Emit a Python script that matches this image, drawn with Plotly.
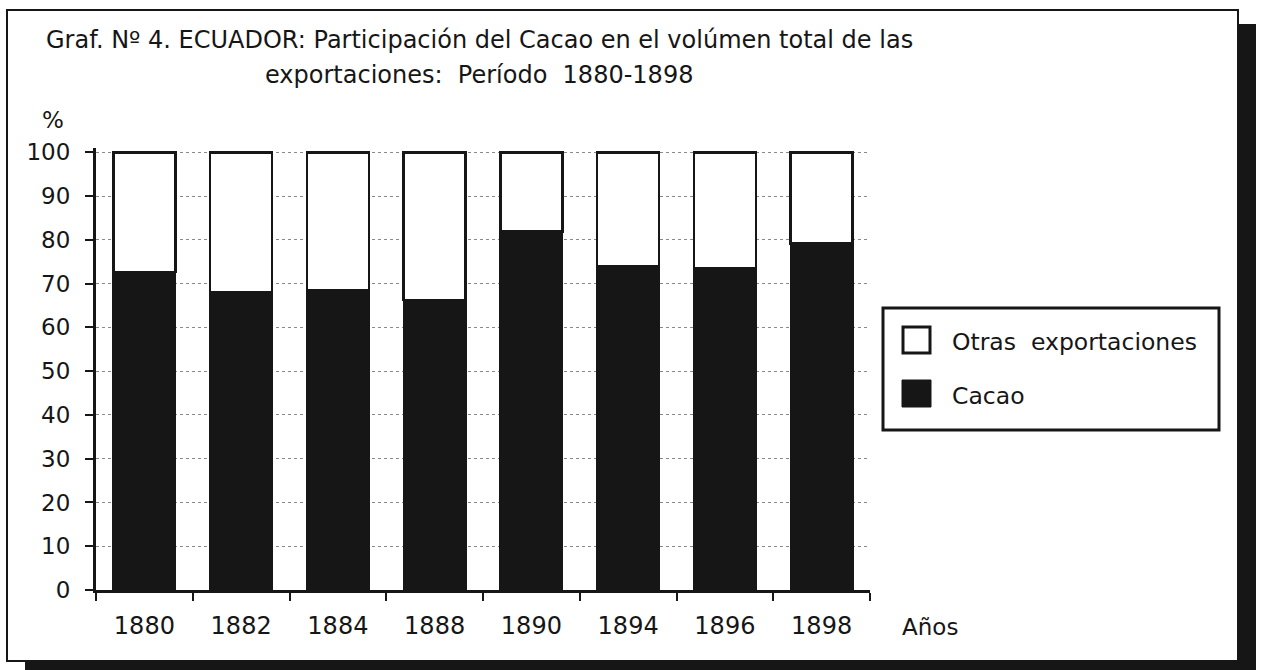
import plotly.graph_objects as go

# ---- data ----
years = ["1880", "1882", "1884", "1888", "1890", "1894", "1896", "1898"]
cacao = [72.7, 68.0, 68.5, 66.3, 81.9, 74.0, 73.5, 79.2]
otras = [round(100 - v, 1) for v in cacao]
series_names = ["Otras  exportaciones", "Cacao"]
y_ticks = [0, 10, 20, 30, 40, 50, 60, 70, 80, 90, 100]
title_line1 = "Graf. Nº 4. ECUADOR: Participación del Cacao en el volúmen total de las"
title_line2 = "exportaciones:  Período  1880-1898"

W, H = 1261, 670
ML, MR, MT, MB = 96, 391, 148, 80
PW, PH = W - ML - MR, H - MT - MB
FONT = "DejaVu Sans, Liberation Sans, Arial, sans-serif"
INK = "#161616"


def px(x):
    return (x - ML) / PW


def py(y):
    return (H - MB - y) / PH


fig = go.Figure()
fig.add_trace(go.Bar(x=years, y=cacao, name=series_names[1],
                     marker=dict(color=INK, line=dict(color=INK, width=2)),
                     showlegend=False))
fig.add_trace(go.Bar(x=years, y=otras, name=series_names[0],
                     marker=dict(color="white", line=dict(color=INK, width=2.5)),
                     showlegend=False))

shapes = []
# shadow of the frame
shapes.append(dict(type="rect", xref="paper", yref="paper", layer="below",
                   x0=px(1238), x1=px(1256), y0=py(670), y1=py(24),
                   fillcolor=INK, line=dict(width=0)))
shapes.append(dict(type="rect", xref="paper", yref="paper", layer="below",
                   x0=px(25), x1=px(1256), y0=py(670), y1=py(661),
                   fillcolor=INK, line=dict(width=0)))
# frame
shapes.append(dict(type="rect", xref="paper", yref="paper", layer="below",
                   x0=px(7), x1=px(1238), y0=py(661), y1=py(10),
                   fillcolor="white", line=dict(color=INK, width=2)))
# legend box
shapes.append(dict(type="rect", xref="paper", yref="paper",
                   x0=px(883), x1=px(1219), y0=py(430), y1=py(308),
                   fillcolor="white", line=dict(color=INK, width=3)))
shapes.append(dict(type="rect", xref="paper", yref="paper",
                   x0=px(903), x1=px(930), y0=py(353), y1=py(327),
                   fillcolor="white", line=dict(color=INK, width=3)))
shapes.append(dict(type="rect", xref="paper", yref="paper",
                   x0=px(902), x1=px(931), y0=py(407), y1=py(380),
                   fillcolor=INK, line=dict(color=INK, width=1)))

annotations = [
    dict(text=title_line1, x=px(44), y=py(40), xanchor="left", yanchor="middle",
         font=dict(size=24)),
    dict(text=title_line2, x=px(263), y=py(75), xanchor="left", yanchor="middle",
         font=dict(size=24)),
    dict(text="%", x=px(53), y=py(120), xanchor="center", yanchor="middle",
         font=dict(size=23)),
    dict(text="Años", x=px(930), y=py(627), xanchor="center", yanchor="middle",
         font=dict(size=23)),
    dict(text=series_names[0], x=px(950), y=py(342), xanchor="left", yanchor="middle",
         font=dict(size=23.5)),
    dict(text=series_names[1], x=px(950), y=py(396), xanchor="left", yanchor="middle",
         font=dict(size=23.5)),
]
for a in annotations:
    a.update(xref="paper", yref="paper", showarrow=False)

fig.update_layout(
    width=W, height=H,
    margin=dict(l=ML, r=MR, t=MT, b=MB),
    barmode="stack", bargap=0.36,
    plot_bgcolor="rgba(0,0,0,0)", paper_bgcolor="white",
    font=dict(family=FONT, color=INK, size=23),
    shapes=shapes, annotations=annotations,
    showlegend=False,
)
fig.update_xaxes(showline=True, linecolor=INK, linewidth=3,
                 ticks="outside", tickson="boundaries", ticklen=8, tickwidth=2,
                 tickcolor=INK, ticklabelstandoff=12, showgrid=False,
                 tickfont=dict(size=24))
fig.update_yaxes(range=[0, 101], showline=True, linecolor=INK, linewidth=3,
                 ticks="outside", ticklen=8, tickwidth=2, tickcolor=INK,
                 tickvals=y_ticks, ticklabelstandoff=10,
                 showgrid=True, gridcolor="#8a8a8a", griddash="dot", gridwidth=1,
                 zeroline=False, tickfont=dict(size=23))

fig.write_html("out.html", config={"displayModeBar": False},
               post_script="document.body.style.margin='0';document.body.style.padding='0';")
